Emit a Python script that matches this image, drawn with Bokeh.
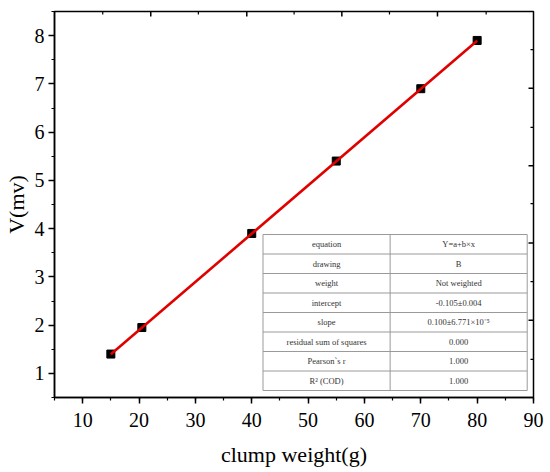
from bokeh.plotting import figure
from bokeh.models import SingleIntervalTicker, Range1d
from bokeh.embed import file_html
from bokeh.resources import INLINE
from bokeh.core.properties import value

# data
clump_weight = [15, 20.5, 40, 55, 70, 80]
voltage = [1.4, 1.95, 3.9, 5.4, 6.9, 7.9]
fit_intercept = -0.105
fit_slope = 0.100
fit_x = [15, 80]

table_labels = ["equation", "drawing", "weight", "intercept", "slope",
                "residual sum of squares", "Pearson`s r", "R\u00b2 (COD)"]
table_values = ["Y=a+b\u00d7x", "B", "Not weighted", "-0.105\u00b10.004",
                "0.100\u00b16.771\u00d710\u207b\u2075", "0.000", "1.000", "1.000"]

FONT = "Liberation Serif"
X0, X1, Y0, Y1 = 5, 90, 0.5, 8.5

p = figure(width=550, height=472, output_backend="svg", toolbar_location=None,
           x_range=Range1d(X0, X1), y_range=Range1d(Y0, Y1),
           min_border_left=54, min_border_right=17, min_border_top=11, min_border_bottom=75)
p.outline_line_color = "black"
p.outline_line_width = 1.5
p.xgrid.visible = False
p.ygrid.visible = False

for ax in (p.xaxis[0], p.yaxis[0]):
    ax.axis_line_width = 1.5
    ax.major_tick_line_width = 1.5
    ax.minor_tick_line_width = 1.2
    ax.major_tick_in = 0
    ax.major_tick_out = 6
    ax.minor_tick_in = 0
    ax.minor_tick_out = 3
    ax.major_label_text_font = FONT
    ax.major_label_text_font_size = "20px"
    ax.major_label_text_color = "black"
    ax.axis_label_text_font = FONT
    ax.axis_label_text_font_size = "22px"
    ax.axis_label_text_font_style = "normal"
    ax.axis_label_text_color = "black"

p.xaxis[0].ticker = SingleIntervalTicker(interval=10, num_minor_ticks=2)
p.yaxis[0].ticker = SingleIntervalTicker(interval=1, num_minor_ticks=2)
p.xaxis[0].axis_label = "clump weight(g)"
p.yaxis[0].axis_label = "V(mv)"
p.xaxis[0].major_label_standoff = 9
p.xaxis[0].axis_label_standoff = 12
p.yaxis[0].major_label_standoff = 4
p.yaxis[0].axis_label_standoff = 3

# inward frame ticks on the top and right edges (Origin-style mirror frame)
top_major = [22.08, 39.12, 55.99, 72.96]
top_minor = [13.56, 30.53, 47.52, 64.44, 81.60]
right_major = [2.10, 3.70, 5.305, 6.91]
right_minor = [1.29, 2.90, 4.52, 6.10, 7.71]
ypx = (Y1 - Y0) / 386.0
xpx = (X1 - X0) / 479.0
p.segment(x0=top_major, x1=top_major, y0=[Y1] * 4, y1=[Y1 - 5 * ypx] * 4,
          line_color="black", line_width=1.5)
p.segment(x0=top_minor, x1=top_minor, y0=[Y1] * 5, y1=[Y1 - 3 * ypx] * 5,
          line_color="black", line_width=1.2)
p.segment(x0=[X1] * 4, x1=[X1 - 5 * xpx] * 4, y0=right_major, y1=right_major,
          line_color="black", line_width=1.5)
p.segment(x0=[X1] * 5, x1=[X1 - 3 * xpx] * 5, y0=right_minor, y1=right_minor,
          line_color="black", line_width=1.2)

# data points and fit line
p.scatter(clump_weight, voltage, marker="square", size=8, color="black")
fit_y = [fit_intercept + fit_slope * x for x in fit_x]
p.line(fit_x, fit_y, line_color="#e00000", line_width=2.6)

# parameter table (in data coordinates)
t_left, t_mid, t_right = 42.0, 64.56, 88.88
t_top, t_bottom = 3.878, 0.645
n = len(table_labels)
rh = (t_top - t_bottom) / n
p.quad(left=[t_left], right=[t_right], top=[t_top], bottom=[t_bottom],
       fill_color="white", line_color="#9a9a9a", line_width=1)
ys = [t_top - rh * (i + 1) for i in range(n - 1)]
p.segment(x0=[t_left] * (n - 1), x1=[t_right] * (n - 1), y0=ys, y1=ys,
          line_color="#9a9a9a", line_width=1)
p.segment(x0=[t_mid], x1=[t_mid], y0=[t_top], y1=[t_bottom],
          line_color="#9a9a9a", line_width=1)
cy = [t_top - rh * (i + 0.5) for i in range(n)]
p.text(x=[(t_left + t_mid) / 2] * n, y=cy, text=table_labels,
       text_font=value(FONT), text_font_size="8.5px", text_color="#333333",
       text_align="center", text_baseline="middle")
p.text(x=[(t_mid + t_right) / 2] * n, y=cy, text=table_values,
       text_font=value(FONT), text_font_size="8.5px", text_color="#333333",
       text_align="center", text_baseline="middle")

open("out.html", "w").write(file_html(p, INLINE))
